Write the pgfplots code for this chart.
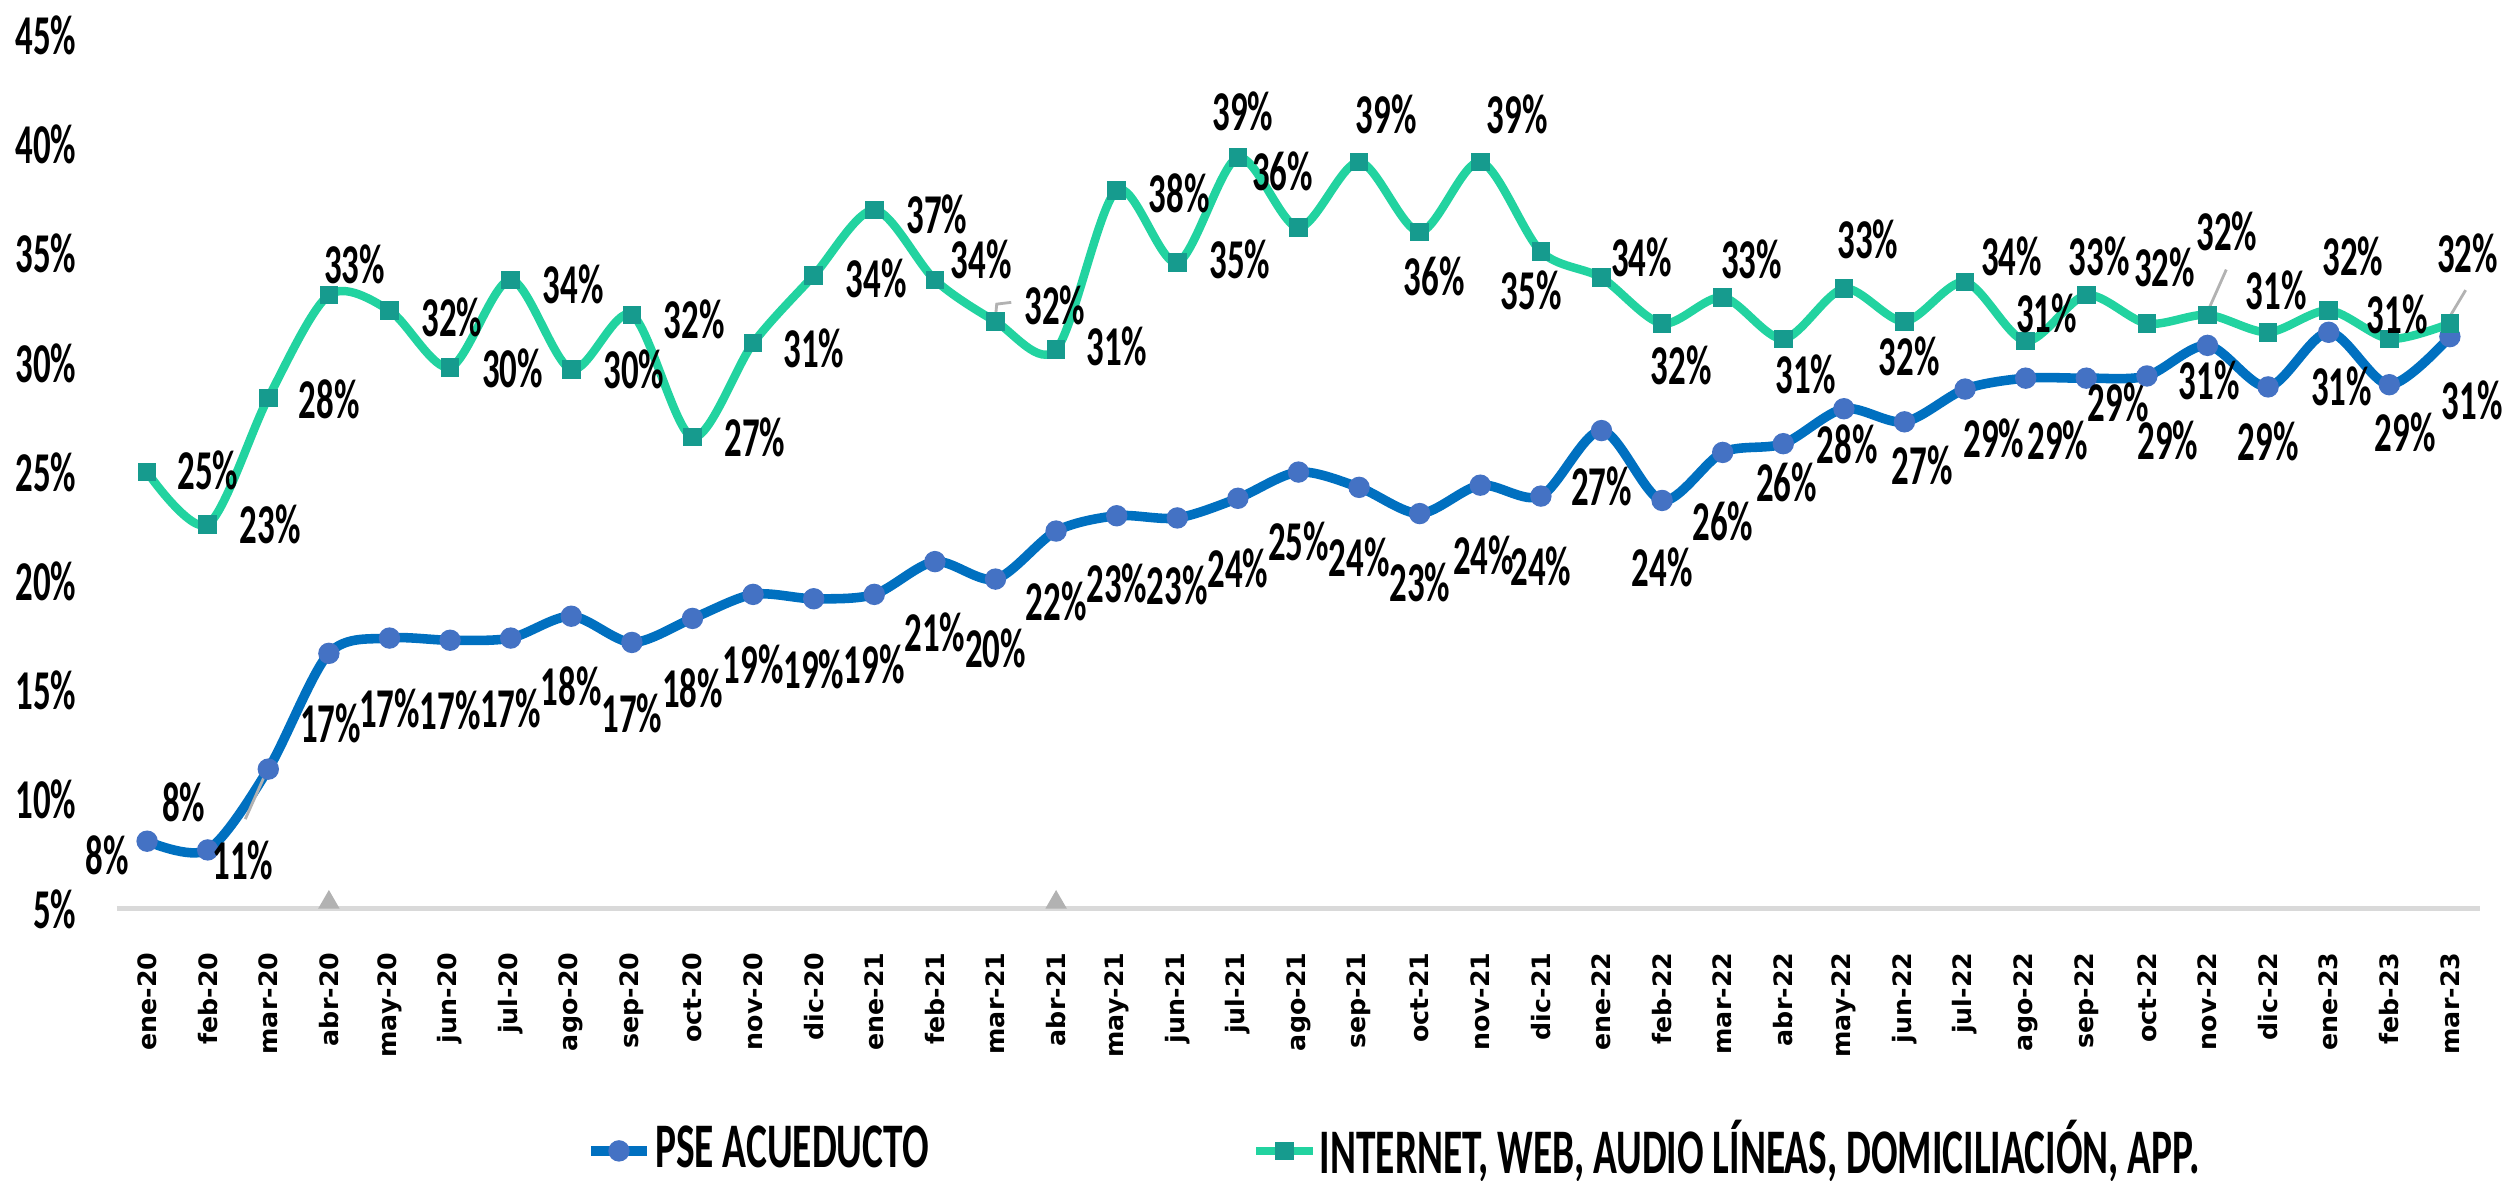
\documentclass[border=0pt]{standalone}
\usepackage{fontspec}
\usepackage{pgfplots}
\usepackage{pgfplotstable}
\pgfplotsset{compat=1.18}
\newfontfamily\condb{Carlito}[FakeStretch=0.62]
\newfontfamily\dejab{DejaVu Sans}
\definecolor{pseline}{HTML}{0070C0}
\definecolor{psemark}{HTML}{4472C4}
\definecolor{webline}{HTML}{22D3A0}
\definecolor{webmark}{HTML}{169B8E}
\definecolor{axisgray}{HTML}{D9D9D9}

% x = month index (0 = ene-20), y = share in %, dx/dy = label offset (0.1 mm)
\pgfplotstableread{
x y dx dy
0 8.1 -25 -9
1 7.7 -15 30
2 11.4 -16 -57
3 16.7 1 -44
4 17.4 0 -44
5 17.3 0 -44
6 17.4 0 -44
7 18.4 0 -44
8 17.2 0 -44
9 18.3 0 -44
10 19.4 0 -44
11 19.2 0 -44
12 19.4 0 -44
13 20.9 0 -44
14 20.1 0 -43
15 22.3 0 -44
16 23.0 0 -42
17 22.9 0 -42
18 23.8 0 -44
19 25.0 0 -43
20 24.3 0 -44
21 23.1 0 -43
22 24.4 2 -44
23 23.9 0 -44
24 26.9 0 -35
25 23.7 0 -42
26 25.9 0 -43
27 26.3 2 -24
28 27.9 2 -22
29 27.3 11 -27
30 28.8 18 -31
31 29.3 20 -39
32 29.3 20 -15
33 29.4 13 -40
34 30.8 1 -22
35 28.9 0 -34
36 31.4 8 -34
37 29.0 10 -30
38 31.2 14 -40
}\pse

\pgfplotstableread{
x y dx dy
0 25.0 38 1
1 22.6 39 0
2 28.4 38 -1
3 33.1 16 19
4 32.4 39 -4
5 29.8 39 -1
6 33.8 39 -3
7 29.7 39 0
8 32.2 39 -3
9 26.6 39 0
10 30.9 38 -3
11 34.0 39 -2
12 37.0 39 -3
13 33.8 29 13
14 31.9 37 10
15 30.6 38 2
16 37.9 39 -2
17 34.6 39 2
18 39.4 3 29
19 36.2 -10 35
20 39.2 17 30
21 36.0 9 -28
22 39.2 23 30
23 35.1 -6 -24
24 33.9 25 13
25 31.8 12 -26
26 33.0 18 24
27 31.1 14 -22
28 33.4 15 31
29 31.9 3 -22
30 33.7 29 16
31 31.0 13 17
32 33.1 8 24
33 31.8 11 35
34 32.2 12 52
35 31.4 5 26
36 32.4 15 34
37 31.1 5 15
38 31.8 11 44
}\web

\begin{document}
\begin{tikzpicture}
\begin{axis}[
    name=ax,
    scale only axis,
    width=147.7mm, height=54.6mm,
    xmin=-0.5, xmax=38.5,
    ymin=5, ymax=45,
    axis lines*=left,
    y axis line style={draw=none},
    x axis line style={draw=axisgray, line width=0.9pt},
    tick style={draw=none},
    major tick length=0pt,
    xtick={0,...,38},
    xticklabels={ene-20,feb-20,mar-20,abr-20,may-20,jun-20,jul-20,ago-20,sep-20,oct-20,nov-20,dic-20,
        ene-21,feb-21,mar-21,abr-21,may-21,jun-21,jul-21,ago-21,sep-21,oct-21,nov-21,dic-21,
        ene-22,feb-22,mar-22,abr-22,may-22,jun-22,jul-22,ago-22,sep-22,oct-22,nov-22,dic-22,
        ene-23,feb-23,mar-23},
    xticklabel style={font=\dejab\bfseries\fontsize{4.5}{5}\selectfont, yshift=-1.5mm, rotate=90, anchor=east},
    ytick={5,10,...,45},
    yticklabel={\pgfmathprintnumber[assume math mode=true]{\tick}\%},
    yticklabel style={font=\condb\bfseries\fontsize{10}{11}\selectfont, xshift=-1.3mm},
    clip=false,
    legend columns=2,
    legend style={at={(0.191,-0.277)}, anchor=west, draw=none, fill=none,
        font=\condb\bfseries\fontsize{11.3}{12}\selectfont,
        nodes={inner xsep=0.6pt, inner ysep=0.5pt},
        /tikz/every even column/.append style={column sep=20mm}},
    legend image code/.code={\draw[mark repeat=2, mark phase=2, #1]
        plot coordinates {(0mm,0mm) (1.75mm,0mm) (3.5mm,0mm)};},
    lbl/.style={
        point meta=y,
        visualization depends on={\thisrow{dx} \as \dx},
        visualization depends on={\thisrow{dy} \as \dy},
        nodes near coords={\pgfmathprintnumber[fixed, precision=0, assume math mode=true]{\pgfplotspointmeta}\%},
        every node near coord/.append style={font=\condb\bfseries\fontsize{10}{11}\selectfont,
            text=black, anchor=center, inner sep=0pt, xshift=\dx*0.1mm, yshift=\dy*0.1mm},
    },
]
\addplot[forget plot, only marks, mark=triangle*, mark size=1.8pt, color=gray!60] coordinates {(3,5.3) (15,5.3)};

\addplot[lbl, smooth, color=pseline, line width=1.7pt, mark=*, mark size=1.7pt,
    mark options={fill=psemark, draw=psemark, line width=0.4pt}] table[x=x, y=y] {\pse};
\addlegendentry{PSE ACUEDUCTO}

\addplot[lbl, smooth, color=webline, line width=1.5pt, mark=square*, mark size=1.45pt,
    mark options={fill=webmark, draw=webmark, line width=0.4pt}] table[x=x, y=y] {\web};
\addlegendentry{INTERNET, WEB, AUDIO LÍNEAS, DOMICILIACIÓN, APP.}

% leader lines
\draw[gray!60, line width=0.5pt] (axis cs:1.62,9.11) -- (axis cs:1.94,11.1);
\draw[gray!60, line width=0.5pt] (axis cs:14.0,32.08) -- (axis cs:14.02,32.69) -- (axis cs:14.26,32.77);
\draw[gray!60, line width=0.5pt] (axis cs:33.99,32.27) -- (axis cs:34.31,34.27);
\draw[gray!60, line width=0.5pt] (axis cs:37.99,32.08) -- (axis cs:38.26,33.33);
\end{axis}
\pgfresetboundingbox
\path (ax.south west) ++(-7.3mm,-17mm) rectangle ++(156.8mm,73.8mm);
\end{tikzpicture}
\end{document}
